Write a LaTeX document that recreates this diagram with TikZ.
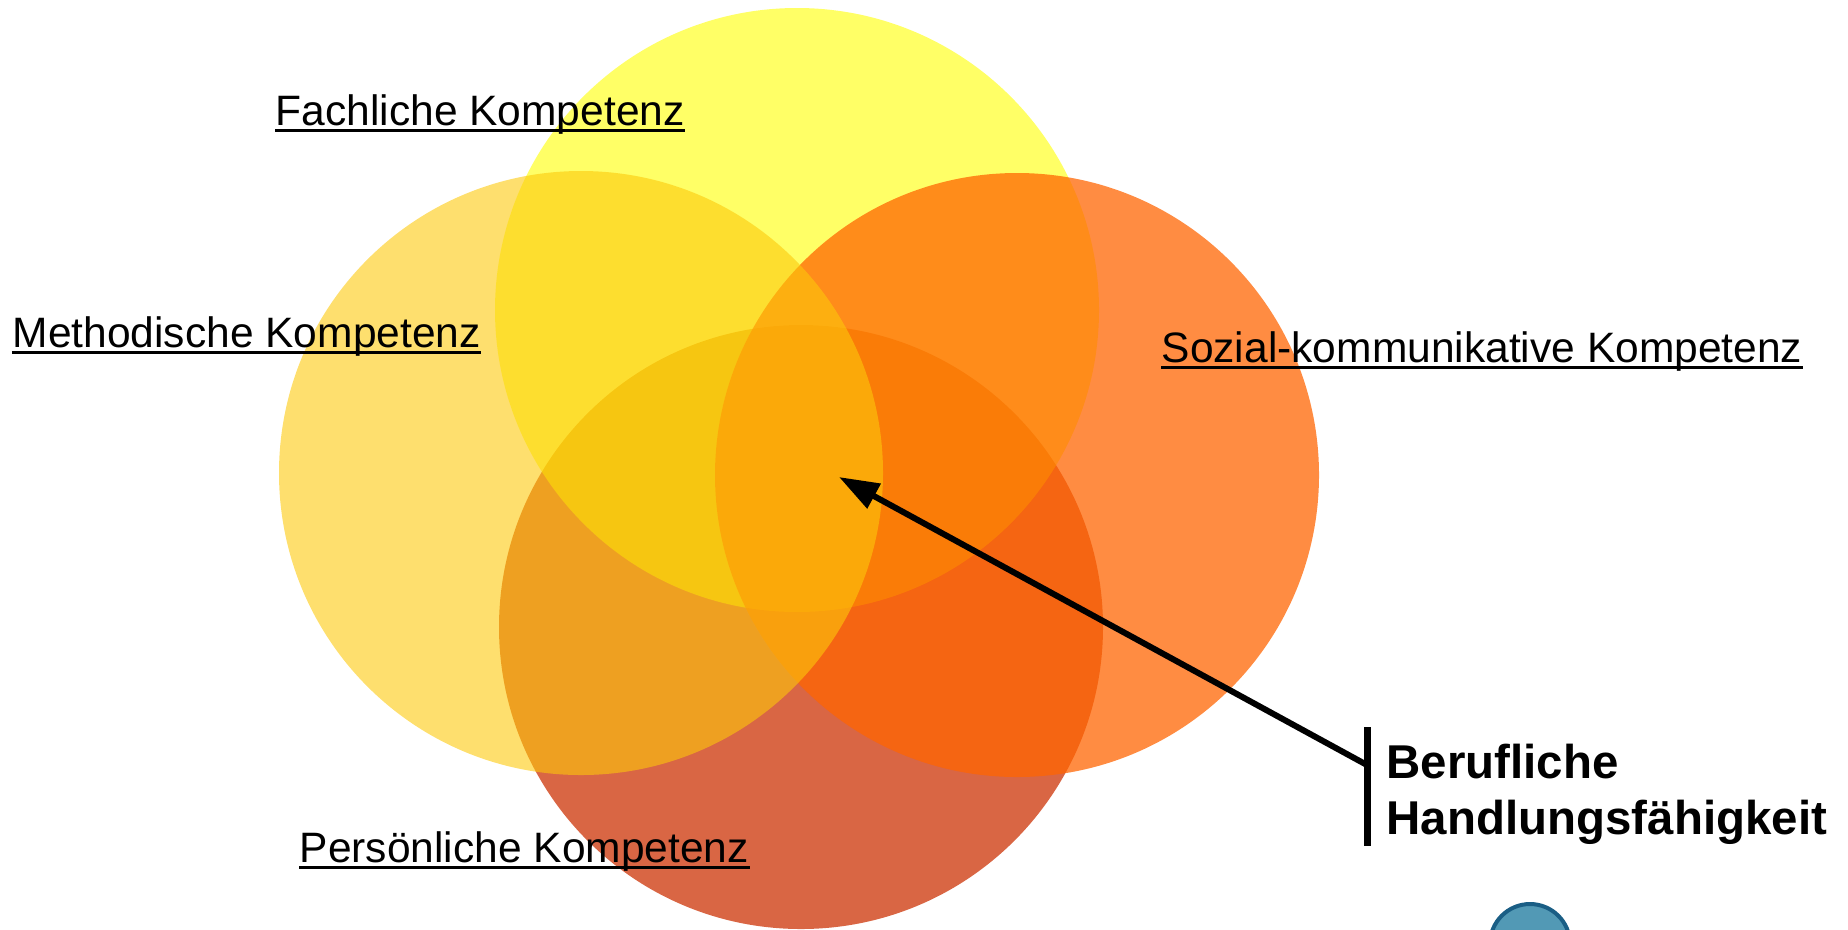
\documentclass[tikz,border=0pt]{standalone}
\usepackage{fontspec}
\setmainfont{Liberation Sans}
\usetikzlibrary{arrows.meta}
\definecolor{persc}{RGB}{203,46,0}
\definecolor{fachc}{RGB}{255,255,0}
\definecolor{sozc}{RGB}{255,100,0}
\definecolor{methc}{RGB}{253,201,11}
\definecolor{iconfill}{RGB}{82,153,181}
\definecolor{iconline}{RGB}{26,94,133}
\begin{document}
\begin{tikzpicture}[
  comp/.style={circle, draw=none, inner sep=0pt, minimum size=6.04cm},
  lbl/.style={font=\fontsize{12.1pt}{14pt}\selectfont, inner sep=0pt, anchor=base west},
  boldlbl/.style={font=\fontsize{13.5pt}{16pt}\selectfont\bfseries, inner sep=0pt, anchor=base west},
  uline/.style={line width=0.03cm},
  pointer/.style={line width=0.06cm, -{Triangle[length=0.40cm,width=0.27cm]}},
  barline/.style={line width=0.07cm}
]
\useasboundingbox (0,0) rectangle (18.48,-9.29);
\clip (0,0) rectangle (18.48,-9.29);
% circles (bottom to top)
\node[comp, fill=persc, fill opacity=0.733] (cpers) at (8.01,-6.27) {};
\node[comp, fill=fachc, fill opacity=0.6] (cfach) at (7.97,-3.10) {};
\node[comp, fill=sozc, fill opacity=0.74] (csoz) at (10.17,-4.75) {};
\node[comp, fill=methc, fill opacity=0.595] (cmeth) at (5.81,-4.73) {};
% labels
\node[lbl] (fach) at (2.75,-1.25) {Fachliche Kompetenz};
\node[lbl] (meth) at (0.12,-3.47) {Methodische Kompetenz};
\node[lbl] (soz) at (11.61,-3.62) {Sozial-kommunikative Kompetenz};
\node[lbl] (pers) at (2.99,-8.62) {Persönliche Kompetenz};
\foreach \n in {fach,meth,soz,pers}{
  \draw[uline] ([yshift=-0.05cm]\n.base west) -- ([yshift=-0.05cm]\n.base east);
}
% result label
\node[boldlbl] (hf1) at (13.86,-7.78) {Berufliche};
\node[boldlbl] (hf2) at (13.86,-8.34) {Handlungsfähigkeit};
\coordinate (bartop) at (13.67,-7.27);
\coordinate (barbot) at (13.67,-8.46);
\draw[barline] (bartop) -- (barbot);
\coordinate (barjoin) at (13.67,-7.65);
\coordinate (target) at (8.39,-4.77);
\draw[pointer] (barjoin) -- (target);
% logo fragment
\node[circle, fill=iconfill, draw=iconline, line width=0.04cm, minimum size=0.8cm, inner sep=0pt] (logo) at (15.30,-9.44) {};
\end{tikzpicture}
\end{document}
